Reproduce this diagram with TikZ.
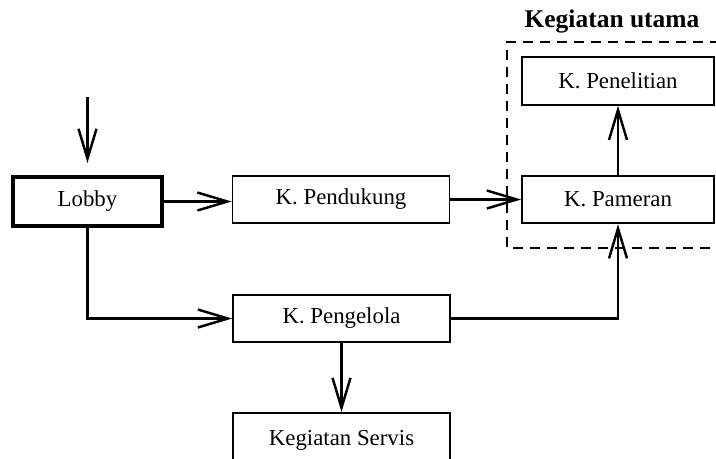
\documentclass[tikz,border=0pt]{standalone}
\usepackage{fontspec}
\setmainfont{Liberation Serif}
\usetikzlibrary{arrows.meta,positioning,calc}

\begin{document}
\begin{tikzpicture}[x=0.02cm,y=-0.02cm,
    box/.style={draw,line width=1pt,minimum width=4.34cm,minimum height=0.95cm,
      inner sep=0pt,font=\fontsize{13}{15}\selectfont},
    arr/.style={line width=1.4pt,-{Straight Barb[length=0.6cm,width=0.36cm,line width=1.4pt]}}]
      \useasboundingbox (0,0) rectangle (716,458);
      \clip (0,0) rectangle (716,458);

      % Main group frame
      \draw[line width=1pt,dash pattern=on 0.2cm off 0.14cm] (720,42) -| (507,248) -- (720,248);
      \node[font=\fontsize{14.5}{17}\bfseries] (title) at (612,21) {Kegiatan utama};

      % Rooms
      \node[box,line width=1.9pt,minimum width=2.98cm,minimum height=0.98cm] (lobby) at (87.5,201.5) {Lobby};
      \node[box] (pendukung) at (341,199.5) {K. Pendukung};
      \node[box,minimum width=3.84cm] (pameran) at (618,199.5) {K. Pameran};
      \node[box,minimum width=3.84cm] (penelitian) at (618,81) {K. Penelitian};
      \node[box] (pengelola) at (341.5,318.5) {K. Pengelola};
      \node[box,minimum height=1.08cm] (servis) at (341.5,440) {Kegiatan Servis};

      % Flow
      \coordinate (entry) at (87.5,97);
      \draw[arr,shorten >=5\pgflinewidth] (entry) -- (lobby.north);
      \draw[arr] (lobby.east) -- (lobby.east -| pendukung.west);
      \draw[arr] (pendukung.east) -- (pameran.west);
      \draw[arr] (pameran.north) -- (penelitian.south);
      \draw[arr] (lobby.south) |- (pengelola.west);
      \draw[arr] (pengelola.east) -| (pameran.south);
      \draw[arr] (pengelola.south) -- (servis.north);
\end{tikzpicture}
\end{document}
